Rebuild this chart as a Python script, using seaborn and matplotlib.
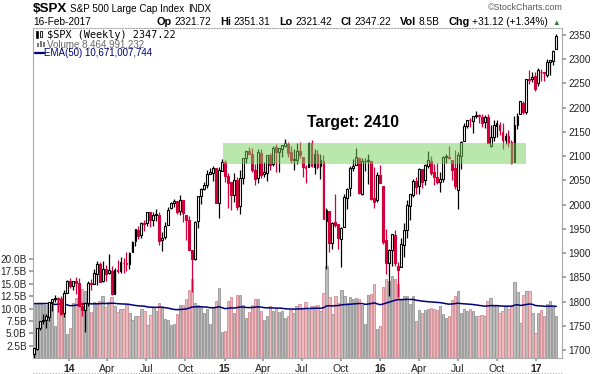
import numpy as np
import pandas as pd
import matplotlib
matplotlib.use("Agg")
import matplotlib.pyplot as plt
import matplotlib.dates as mdates
from matplotlib.patches import Rectangle
from matplotlib.lines import Line2D
import seaborn as sns

sns.set_theme(style="ticks")
plt.rcParams['font.family'] = ['Liberation Sans', 'DejaVu Sans']

# ---------------- data ----------------
week_end = pd.date_range('2013-10-11', periods=176, freq='W-FRI')

opens = [1691.7,1703.1,1745.2,1759.4,1762.0,1769.0,1798.8,1806.3,1806.6,1805.1,
         1775.4,1818.6,1842.0,1832.3,1842.3,1837.9,1791.0,1782.7,1797.0,1838.8,
         1836.8,1857.7,1878.3,1841.8,1867.0,1859.2,1863.9,1816.3,1865.8,1863.4,
         1879.4,1880.0,1877.9,1902.0,1923.9,1948.0,1937.2,1962.9,1962.3,1984.2,
         1968.0,1979.8,1978.3,1926.0,1933.4,1958.4,1992.0,2004.1,2007.2,1986.8,
         2009.1,1978.5,1967.7,1905.6,1887.3,1965.2,2018.2,2032.0,2039.7,2064.0,
         2065.8,2074.8,2002.9,2069.8,2088.5,2058.9,2046.1,2020.8,2050.4,1996.7,
         2055.5,2096.5,2110.9,2105.2,2072.3,2055.4,2107.0,2064.1,2064.9,2102.0,
         2084.1,2119.3,2108.4,2115.6,2121.2,2125.3,2108.6,2092.3,2091.3,2110.6,
         2098.6,2075.0,2077.4,2126.8,2078.2,2104.5,2080.0,2089.7,1965.2,1986.7,
         1921.7,1963.1,1960.8,1929.0,1954.3,2013.7,2033.5,2076.3,2080.8,2096.6,
         2022.1,2090.0,2090.9,2090.4,2013.4,2010.3,2060.6,2038.2,1927.8,1878.9,
         1906.3,1936.9,1873.3,1871.4,1917.2,1947.1,1996.1,2019.3,2048.6,2037.9,
         2073.2,2050.2,2078.8,2089.4,2067.2,2057.6,2046.5,2051.9,2100.0,2097.7,
         2092.8,2075.0,2030.0,2099.3,2131.7,2162.0,2173.7,2173.0,2183.7,2183.7,
         2181.3,2170.2,2181.6,2120.9,2139.4,2163.0,2164.3,2150.5,2132.9,2142.5,
         2129.0,2088.3,2163.9,2186.4,2210.2,2191.1,2258.8,2260.0,2266.2,2251.6,
         2273.6,2272.7,2267.8,2294.3,2295.9,2321.7]

highs = [1703.4,1745.3,1759.8,1775.2,1774.5,1798.2,1804.8,1813.6,1810.0,1811.5,
         1823.8,1844.9,1849.4,1843.2,1850.8,1849.3,1799.9,1798.0,1841.7,1847.5,
         1867.9,1883.6,1882.4,1883.9,1875.9,1897.3,1872.5,1869.6,1884.9,1891.3,
         1889.1,1902.2,1901.3,1924.0,1949.4,1955.6,1963.9,1968.2,1985.6,1984.2,
         1983.9,1991.4,1984.4,1942.9,1964.0,1994.8,2005.0,2011.2,2007.7,2019.3,
         2009.1,1978.8,1977.4,1905.6,1965.3,2018.2,2034.3,2046.2,2071.5,2075.8,
         2079.5,2075.8,2077.9,2093.6,2093.0,2064.4,2046.1,2064.6,2057.6,2072.4,
         2097.0,2110.6,2119.6,2117.5,2083.5,2113.9,2114.9,2088.2,2102.6,2107.3,
         2120.9,2125.9,2117.7,2123.0,2134.7,2129.9,2121.9,2115.0,2126.6,2129.9,
         2098.6,2081.3,2128.3,2132.8,2114.2,2112.7,2105.4,2102.9,1993.5,1986.7,
         1965.0,2020.9,1960.8,1953.5,2020.9,2034.9,2079.7,2094.3,2116.5,2099.2,
         2097.1,2095.6,2104.3,2090.4,2076.7,2067.0,2081.6,2038.2,1950.3,1908.8,
         1940.2,1947.2,1881.6,1930.7,1962.9,2009.1,2022.4,2052.4,2056.6,2075.1,
         2074.0,2083.2,2111.1,2099.9,2083.4,2084.9,2068.0,2099.9,2103.5,2120.6,
         2092.8,2113.3,2108.7,2131.7,2169.1,2175.6,2178.3,2183.5,2193.8,2187.0,
         2186.6,2184.0,2187.9,2163.3,2175.3,2175.3,2169.6,2168.0,2148.4,2154.8,
         2133.3,2182.3,2189.9,2213.4,2214.1,2259.8,2277.5,2272.6,2273.8,2282.1,
         2279.3,2272.8,2300.9,2299.0,2319.2,2351.3]

lows = [1646.5,1700.7,1740.5,1752.7,1746.2,1760.6,1780.0,1800.0,1779.1,1772.3,
        1767.9,1818.6,1827.7,1823.7,1815.5,1790.0,1770.5,1737.9,1791.8,1824.6,
        1836.8,1834.4,1839.6,1839.6,1842.0,1856.7,1814.4,1815.8,1859.7,1859.5,
        1859.8,1862.4,1868.1,1902.0,1915.1,1928.7,1930.9,1944.7,1955.4,1952.9,
        1955.6,1965.8,1916.4,1904.8,1928.3,1958.4,1990.5,1994.5,1980.3,1978.5,
        1964.0,1926.0,1906.1,1820.7,1886.3,1951.8,2001.0,2030.0,2034.2,2062.3,
        2049.6,2002.3,1972.6,2069.8,2046.5,1992.4,1988.1,2004.5,1989.2,1980.9,
        2041.9,2085.4,2103.5,2067.3,2039.7,2045.5,2055.8,2056.8,2048.4,2072.4,
        2079.9,2067.9,2067.9,2099.1,2119.7,2099.2,2085.7,2072.1,2084.0,2096.6,
        2056.6,2044.0,2077.4,2077.9,2063.5,2073.9,2052.1,1970.9,1867.0,1903.1,
        1909.0,1953.0,1908.8,1871.9,1954.3,1990.7,2016.8,2069.3,2080.8,2022.8,
        2019.4,2070.3,2042.4,2008.8,1993.3,2005.9,2043.6,1918.5,1857.8,1812.3,
        1872.7,1872.7,1810.1,1871.4,1891.0,1931.8,1969.2,2015.4,2022.1,2022.5,
        2033.8,2039.7,2075.2,2060.2,2039.7,2043.1,2025.9,2047.3,2085.1,2094.0,
        2050.4,2032.6,1991.7,2074.0,2131.7,2159.0,2159.1,2147.6,2177.9,2168.5,
        2160.4,2157.1,2127.8,2119.1,2131.4,2139.7,2142.6,2114.7,2124.4,2119.4,
        2083.8,2088.3,2156.4,2186.4,2187.4,2187.9,2248.4,2254.0,2233.6,2245.1,
        2254.3,2254.4,2262.3,2267.2,2288.4,2321.4]

closes = [1703.2,1744.5,1759.8,1761.6,1770.6,1798.2,1804.8,1805.8,1805.1,1775.3,
          1818.3,1841.4,1831.4,1842.4,1838.7,1790.3,1782.6,1797.0,1838.6,1836.3,
          1859.5,1878.0,1841.1,1866.5,1857.6,1865.1,1815.7,1864.9,1863.4,1881.1,
          1878.5,1877.9,1900.5,1923.6,1949.4,1936.2,1962.9,1961.0,1985.4,1967.6,
          1978.2,1978.3,1925.2,1931.6,1955.1,1988.4,2003.4,2007.7,1985.5,2010.4,
          1982.9,1967.9,1906.1,1886.8,1964.6,2018.1,2031.9,2039.8,2063.5,2067.6,
          2075.4,2002.3,2070.7,2088.8,2058.2,2044.8,2019.4,2051.8,1995.0,2055.5,
          2097.0,2110.3,2104.5,2071.3,2053.4,2108.1,2061.0,2067.0,2102.1,2081.2,
          2117.7,2108.3,2116.1,2122.7,2126.1,2107.4,2092.8,2094.1,2110.0,2101.5,
          2076.8,2076.6,2126.6,2079.7,2103.8,2077.6,2091.5,1970.9,1988.9,1921.2,
          1961.1,1958.0,1931.3,1951.4,2014.9,2033.1,2075.2,2079.4,2099.2,2023.0,
          2089.2,2090.1,2091.7,2012.4,2005.6,2061.0,2043.9,1922.0,1880.3,1906.9,
          1940.2,1880.1,1864.8,1917.8,1948.1,2000.0,2022.2,2049.6,2035.9,2072.8,
          2047.6,2080.7,2091.6,2065.3,2057.1,2046.6,2052.3,2099.06,2099.13,2096.1,
          2071.2,2037.4,2103.0,2129.9,2161.7,2175.0,2173.6,2182.9,2184.1,2183.9,
          2169.0,2180.0,2127.8,2139.2,2164.7,2168.3,2153.7,2133.0,2141.2,2126.4,
          2085.2,2164.5,2181.9,2213.4,2192.0,2259.5,2258.1,2263.8,2238.8,2277.0,
          2274.6,2271.3,2294.7,2297.4,2316.1,2347.22]

volume_b = [11.0,11.2,11.0,11.2,10.8,11.0,10.8,6.5,12.0,12.2,
            13.0,4.8,6.0,11.2,12.2,13.6,14.0,13.5,11.2,9.3,
            11.3,11.0,11.5,12.5,10.3,11.3,12.3,10.5,9.3,10.0,
            10.0,10.8,9.0,7.7,8.5,8.5,9.9,9.6,6.6,8.7,
            10.4,9.4,11.2,10.1,7.9,7.6,6.6,6.8,8.9,10.7,
            10.7,11.9,13.8,16.0,11.2,10.7,10.4,9.0,9.9,6.9,
            10.3,11.5,14.1,5.3,5.4,11.5,12.3,9.0,12.8,12.8,
            10.7,8.0,9.2,10.7,11.9,12.0,9.5,7.6,8.5,10.5,
            9.5,10.0,9.2,9.5,8.0,8.5,9.8,9.0,10.5,11.0,
            10.2,11.3,9.8,10.5,10.5,10.8,9.5,13.2,18.6,12.3,
            8.9,12.5,11.2,13.8,12.6,11.2,12.4,12.0,12.2,12.0,
            10.7,6.8,12.8,13.0,14.9,5.9,6.5,14.4,16.0,15.5,
            16.5,16.0,15.0,11.8,12.5,12.6,11.0,12.6,7.5,9.8,
            9.0,9.8,10.0,10.2,10.0,9.8,10.5,8.8,8.0,8.5,
            11.8,12.5,13.6,9.0,10.0,9.5,10.0,9.5,8.5,8.5,
            8.7,8.5,11.5,12.2,10.5,10.8,9.0,9.5,10.5,10.0,
            10.5,15.4,13.3,7.0,12.8,13.5,13.5,9.0,5.0,9.0,
            9.8,8.5,11.0,11.5,10.3,8.46]

month_tick_dates = pd.date_range('2014-01-01', periods=13, freq='QS')
month_tick_labels = ['14', 'Apr', 'Jul', 'Oct', '15', 'Apr', 'Jul', 'Oct',
                     '16', 'Apr', 'Jul', 'Oct', '17']
price_ticks = list(range(1700, 2351, 50))
volume_ticks = [2.5, 5.0, 7.5, 10.0, 12.5, 15.0, 17.5, 20.0]
target_low, target_high = 2084, 2128
target_start, target_end = pd.Timestamp('2014-12-28'), pd.Timestamp('2016-12-07')
target_label = 'Target: 2410'
quote_items = [('Op', '2321.72'), ('Hi', '2351.31'), ('Lo', '2321.42'),
               ('Cl', '2347.22'), ('Vol', '8.5B'), ('Chg', '+31.12 (+1.34%)')]

# ---------------- figure ----------------
W, H = 595, 374
fig = plt.figure(figsize=(W / 100, H / 100), dpi=100)
def fx(x): return x / W
def fy(y): return 1 - y / H

ax = fig.add_axes([fx(33), fy(358), (562 - 33) / W, (358 - 28) / H])
axp = ax.twinx()

x = mdates.date2num(week_end)
o = np.array(opens); h = np.array(highs); l = np.array(lows); c = np.array(closes)
v = np.array(volume_b)
prev = np.concatenate([[1690.5], c[:-1]])
up_week = c >= prev

RED = '#d1003a'
VGRAY, VGRAY_E = '#bcbcbc', '#959595'
VPINK, VPINK_E = '#ecb9bd', '#d48c95'

# volume bars
ax.bar(x[up_week], v[up_week], width=5.4, color=VGRAY, edgecolor=VGRAY_E,
       linewidth=0.6, zorder=1)
ax.bar(x[~up_week], v[~up_week], width=5.4, color=VPINK, edgecolor=VPINK_E,
       linewidth=0.6, zorder=1)
ema = pd.Series(v).ewm(span=50, adjust=False).mean()
sns.lineplot(x=x, y=ema.values, ax=ax, color='#00007a', linewidth=1.1, zorder=2)
ax.set_ylim(0, 66.7)
ax.set_yticks(volume_ticks)
ax.set_yticklabels([f'{t:.1f}B' for t in volume_ticks])

# candles
ccol = np.where(up_week, 'black', RED)
axp.vlines(x, l, h, colors=ccol, linewidth=0.9, zorder=3)
body_lo = np.minimum(o, c)
body_h = np.maximum(np.abs(c - o), 0.8)
filled = c < o
face = [cc if f else 'white' for cc, f in zip(ccol, filled)]
axp.bar(x, body_h, bottom=body_lo, width=4.4, color=face, edgecolor=ccol,
        linewidth=0.8, zorder=4)

axp.add_patch(Rectangle((mdates.date2num(target_start), target_low),
                        mdates.date2num(target_end) - mdates.date2num(target_start),
                        target_high - target_low, facecolor='#75d05a', alpha=0.5,
                        edgecolor='none', zorder=5))
axp.set_ylim(1683.5, 2364.4)
axp.set_yticks(price_ticks)
axp.set_yticklabels([str(p) for p in price_ticks])

ax.set_xlim(x[0] - 2.3, x[-1] + 13.5)
ax.set_xticks(mdates.date2num(month_tick_dates))
ax.set_xticklabels(month_tick_labels)
for lab in ax.get_xticklabels():
    if lab.get_text().isdigit():
        lab.set_fontweight('bold')
        lab.set_fontsize(8.5)

ax.set_xlabel(''); ax.set_ylabel(''); axp.set_ylabel('')
ax.tick_params(axis='x', length=2, color='#999999', labelsize=7.6, pad=2,
               labelcolor='#222222')
ax.tick_params(axis='y', left=True, right=False, length=3, color='#999999',
               labelsize=7.2, pad=1.5, labelcolor='#222222')
axp.tick_params(axis='y', right=True, left=False, length=3, color='#999999',
                labelsize=7.2, pad=1.5, labelcolor='#222222')
for sp in axp.spines.values():
    sp.set_visible(False)
for name, sp in ax.spines.items():
    sp.set_visible(True)
    sp.set_color('#a8a8a8')
    sp.set_linewidth(0.8)
ax.spines['top'].set_linestyle((0, (1, 1.5)))
ax.grid(False); axp.grid(False)

# bottom dotted line
fig.add_artist(Line2D([fx(33), fx(562)], [fy(373)] * 2, color='#aaaaaa',
                      linewidth=0.8, linestyle=(0, (1, 1.5))))

# ---------------- texts ----------------
fig.text(fx(33), fy(12), '$SPX', fontsize=9.6, fontweight='bold', color='black')
fig.text(fx(70), fy(12), 'S&P 500 Large Cap Index', fontsize=7.1, color='black')
fig.text(fx(188), fy(12), 'INDX', fontsize=7.0, color='black')
fig.text(fx(563), fy(10), '\u00a9StockCharts.com', fontsize=6.4, color='#555555',
         ha='right')
fig.text(fx(33), fy(25), '16-Feb-2017', fontsize=7.3, color='black')

# quote row: measure pieces, then spread them between x=156.7 and x=548
renderer = fig.canvas.get_renderer()
pieces = []
for lab, val in quote_items:
    t1 = fig.text(0, fy(25), lab, fontsize=7.8, fontweight='bold', color='black')
    t2 = fig.text(0, fy(25), val, fontsize=7.3, color='black')
    w1 = t1.get_window_extent(renderer).width
    w2 = t2.get_window_extent(renderer).width
    pieces.append((t1, w1, t2, w2))
inner = 2.5
total = sum(w1 + inner + w2 for _, w1, _, w2 in pieces)
gap = (548 - 156.7 - total) / (len(pieces) - 1)
cur = 156.7
for t1, w1, t2, w2 in pieces:
    t1.set_x(fx(cur))
    t2.set_x(fx(cur + w1 + inner))
    cur += w1 + inner + w2 + gap
fig.text(fx(552), fy(25), '\u25b2', fontsize=5.5, color='#2e7d32')

# legend
fig.add_artist(Rectangle((fx(36), fy(38)), 2 / W, 7 / H, transform=fig.transFigure,
                         facecolor='black', edgecolor='black', linewidth=0.5))
fig.add_artist(Rectangle((fx(40), fy(37)), 2 / W, 6 / H, transform=fig.transFigure,
                         facecolor='white', edgecolor='black', linewidth=0.6))
fig.text(fx(47), fy(37.5), '$SPX (Weekly) 2347.22', fontsize=7.4,
         family='DejaVu Sans Mono', color='black')
for k, hh in enumerate([4, 6, 5]):
    fig.add_artist(Rectangle((fx(37 + 3 * k), fy(47)), 2 / W, hh / H,
                             transform=fig.transFigure, facecolor='#777777',
                             edgecolor='none'))
fig.text(fx(47), fy(47.5), 'Volume 8,464,991,232', fontsize=7.0, color='#666666')
fig.add_artist(Line2D([fx(35), fx(44)], [fy(53)] * 2, color='#00007a', linewidth=1.6))
fig.text(fx(44.5), fy(56.5), 'EMA(50) 10,671,007,744', fontsize=7.0, color='#00007a')

fig.text(fx(307), fy(127.5), target_label, fontsize=11.3, fontweight='bold',
         color='black')

fig.savefig('out.png', dpi=100)
